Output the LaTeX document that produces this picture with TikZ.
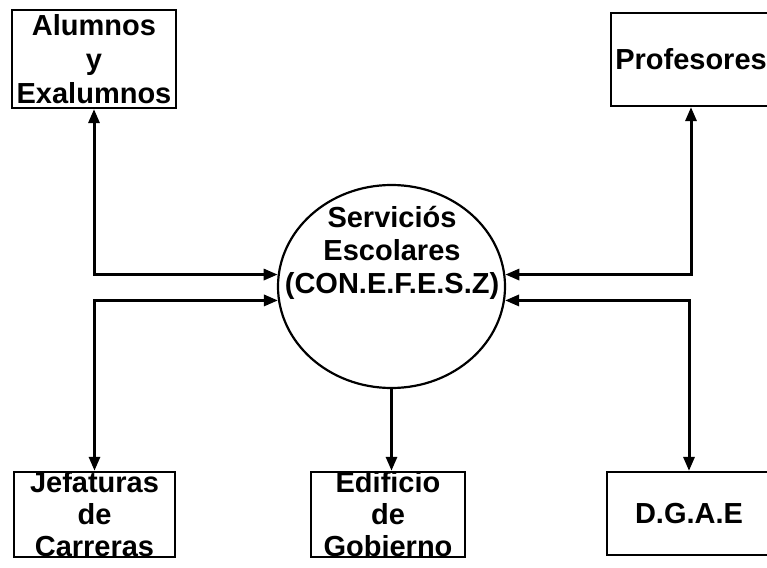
\documentclass[tikz,border=0pt]{standalone}
\usepackage{fontspec}
\setmainfont{Liberation Sans}
\usetikzlibrary{shapes.geometric,arrows.meta}
\begin{document}
\begin{tikzpicture}[x=1pt,y=-1pt,
    caja/.style={draw,line width=2.2pt,inner sep=0pt,align=center,
      font=\fontsize{29}{32}\selectfont\bfseries},
    flujo/.style={line width=3pt,{Triangle[length=14pt,width=11pt]}-{Triangle[length=14pt,width=11pt]}},
    baja/.style={line width=3pt,-{Triangle[length=14pt,width=11pt]}}]
  \useasboundingbox (0,0) rectangle (767,567);
  % entidades
  \node[caja,minimum width=164pt,minimum height=98pt,
    font=\fontsize{29}{34}\selectfont\bfseries] (alumnos) at (94,59) {Alumnos\\y\\Exalumnos};
  \node[caja,minimum width=160pt,minimum height=93pt] (profesores) at (691,59.5) {Profesores};
  \node[caja,minimum width=161pt,minimum height=85pt] (jefaturas) at (94.5,514.5) {Jefaturas\\de\\Carreras};
  \node[caja,minimum width=154pt,minimum height=85pt] (edificio) at (388,514.5) {Edificio\\de\\Gobierno};
  \node[caja,minimum width=164pt,minimum height=83pt] (dgae) at (689,513.5) {D.G.A.E};
  % proceso
  \node[ellipse,draw,line width=2.2pt,minimum width=227pt,minimum height=203pt,inner sep=0pt] (serv) at (391.5,286.5) {};
  \node[align=center,inner sep=0pt,font=\fontsize{29}{33}\selectfont\bfseries] (servtxt) at (392,253) {Serviciós\\Escolares\\(CON.E.F.E.S.Z)};
  \begin{scope}
    \draw[flujo] (alumnos.south) |- (serv.174);
    \draw[flujo] (serv.187) -| (jefaturas.north);
    \draw[flujo] (profesores.south) |- (serv.6);
    \draw[flujo] (serv.-7) -| (dgae.north);
    \draw[baja] (serv.south) -- (serv.south |- edificio.north);
  \end{scope}
\end{tikzpicture}
\end{document}
